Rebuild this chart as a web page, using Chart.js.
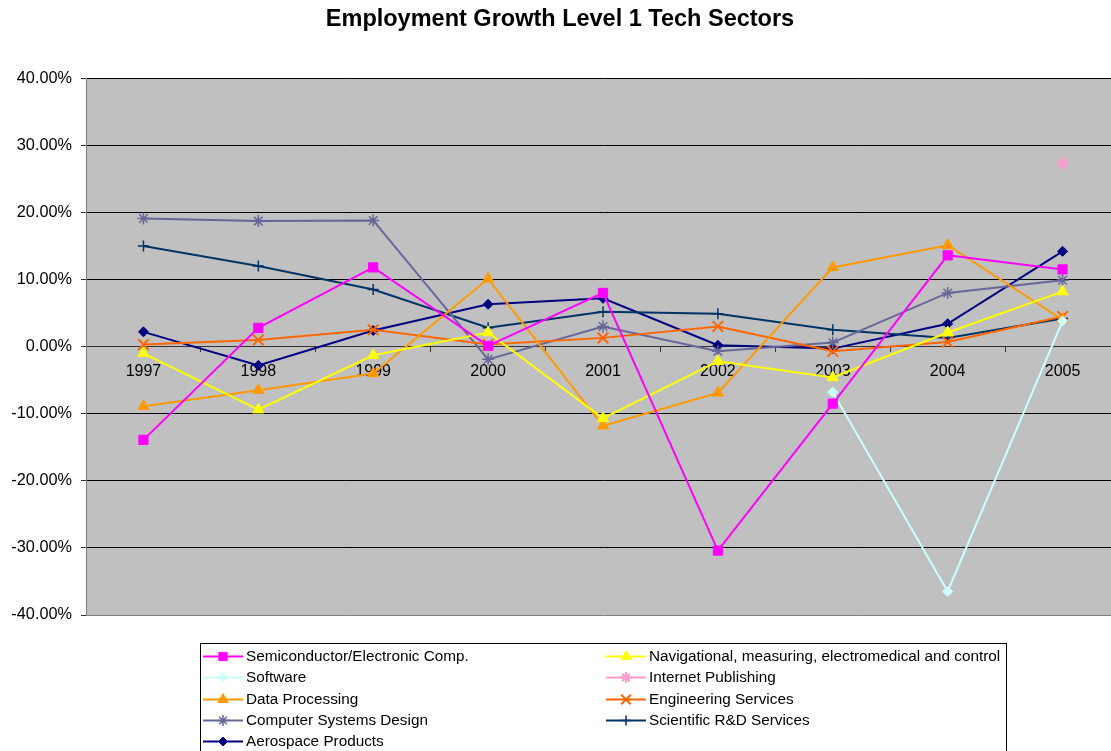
<!DOCTYPE html>
<html>
<head>
<meta charset="utf-8">
<title>Employment Growth Level 1 Tech Sectors</title>
<script src="https://cdn.jsdelivr.net/npm/chart.js@4/dist/chart.umd.min.js"></script>
<style>
  html, body { margin: 0; padding: 0; background: #fff; overflow: hidden; }
  #wrap { width: 1130px; height: 751px; }
</style>
</head>
<body>
<div id="wrap"><canvas id="myChart" width="1130" height="751"></canvas></div>
<script>
// yearly employment growth, in percent
var years = ['1997', '1998', '1999', '2000', '2001', '2002', '2003', '2004', '2005'];
var yTicks = [-40, -30, -20, -10, 0, 10, 20, 30, 40];

var semiconductor      = [-13.9, 2.8, 11.8, 0.1, 8.0, -30.4, -8.5, 13.6, 11.5];
var navigational       = [-1.0, -9.4, -1.3, 2.1, -10.7, -2.2, -4.6, 2.1, 8.2];
var software           = [null, null, null, null, null, null, -6.8, -36.5, 3.8];
var internetPublishing = [null, null, null, null, null, null, null, null, 27.3];
var dataProcessing     = [-8.9, -6.5, -4.0, 10.1, -11.8, -6.9, 11.8, 15.1, 4.0];
var engineering        = [0.3, 1.0, 2.5, 0.3, 1.3, 3.0, -0.7, 0.7, 4.5];
var computerSystems    = [19.1, 18.7, 18.8, -1.9, 3.0, -0.7, 0.6, 8.0, 9.9];
var scientificRD       = [15.0, 12.0, 8.5, 2.8, 5.2, 4.9, 2.5, 1.3, 4.2];
var aerospace          = [2.2, -2.8, 2.4, 6.3, 7.2, 0.2, -0.3, 3.4, 14.2];

function series(label, data, color, style, radius, bw) {
  var filled = (style === 'rect' || style === 'triangle' || style === 'rectRot');
  return {
    label: label,
    data: data,
    borderColor: color,
    backgroundColor: color,
    borderWidth: 2,
    pointStyle: style,
    pointRadius: radius,
    pointHoverRadius: radius,
    pointBackgroundColor: color,
    pointBorderColor: color,
    pointBorderWidth: filled ? 1 : bw,
    tension: 0,
    spanGaps: false
  };
}

// order follows the legend rows: left column, right column
var datasets = [
  series('Semiconductor/Electronic Comp.', semiconductor, '#FF00FF', 'rect', 6.5),
  series('Navigational, measuring, electromedical and control', navigational, '#FFFF00', 'triangle', 6.5),
  series('Software', software, '#CCFFFF', 'rectRot', 5),
  series('Internet Publishing', internetPublishing, '#FF99CC', 'star', 6, 2),
  series('Data Processing', dataProcessing, '#FF9900', 'triangle', 6.5),
  series('Engineering Services', engineering, '#FF6600', 'crossRot', 7.5, 2),
  series('Computer Systems Design', computerSystems, '#666699', 'star', 6, 1.5),
  series('Scientific R&D Services', scientificRD, '#003366', 'cross', 5.5, 1.5),
  series('Aerospace Products', aerospace, '#000080', 'rectRot', 5)
];

// grey plot area behind the grid
var plotBackground = {
  id: 'plotBackground',
  beforeDraw: function(chart) {
    var a = chart.chartArea, ctx = chart.ctx;
    ctx.save();
    ctx.fillStyle = '#C0C0C0';
    ctx.fillRect(a.left, a.top, a.right - a.left, a.bottom - a.top);
    ctx.restore();
  }
};

// boxed two-column legend under the plot
var boxLegend = {
  id: 'boxLegend',
  afterDraw: function(chart) {
    var ctx = chart.ctx;
    var boxX = 200, boxY = 643, boxW = 806, boxH = 130;
    var colX = [203, 606];
    var rowY = 656, rowH = 21.3;
    ctx.save();
    ctx.strokeStyle = '#000';
    ctx.lineWidth = 1;
    ctx.strokeRect(boxX + 0.5, boxY + 0.5, boxW, boxH);
    ctx.font = '15.3px "Liberation Sans", Arial, sans-serif';
    ctx.textBaseline = 'middle';
    ctx.textAlign = 'left';
    chart.data.datasets.forEach(function(ds, i) {
      var x = colX[i % 2];
      var y = Math.round(rowY + Math.floor(i / 2) * rowH) + 0.5;
      ctx.strokeStyle = ds.borderColor;
      ctx.lineWidth = 2;
      ctx.beginPath();
      ctx.moveTo(x, y);
      ctx.lineTo(x + 40, y);
      ctx.stroke();
      ctx.fillStyle = ds.pointBackgroundColor;
      ctx.strokeStyle = ds.pointBorderColor;
      ctx.lineWidth = ds.pointBorderWidth;
      Chart.helpers.drawPoint(ctx, {
        pointStyle: ds.pointStyle,
        radius: ds.pointRadius * 0.9,
        rotation: 0,
        borderWidth: ds.pointBorderWidth
      }, x + 20, y);
      ctx.fillStyle = '#000';
      ctx.fillText(ds.label, x + 43, y);
    });
    ctx.restore();
  }
};

Chart.defaults.font.family = '"Liberation Sans", Arial, sans-serif';
Chart.defaults.color = '#000';

var ctx = document.getElementById('myChart').getContext('2d');
var myChart = new Chart(ctx, {
  type: 'line',
  data: { labels: years, datasets: datasets },
  options: {
    responsive: false,
    animation: false,
    events: [],
    layout: { padding: { left: 0, right: 10, top: 0, bottom: 136 } },
    plugins: {
      legend: { display: false },
      tooltip: { enabled: false },
      title: {
        display: true,
        text: 'Employment Growth Level 1 Tech Sectors',
        font: { size: 23.5, weight: 'bold' },
        lineHeight: 1.2,
        color: '#000',
        padding: { top: 5, bottom: 45 }
      }
    },
    scales: {
      x: {
        type: 'category',
        position: { y: 0 },
        offset: true,
        grid: {
          display: true,
          offset: true,
          drawOnChartArea: false,
          drawTicks: true,
          tickLength: 5,
          tickColor: '#333'
        },
        border: { display: true, color: '#333', width: 1 },
        ticks: { font: { size: 16 }, padding: 10, maxRotation: 0, autoSkip: false }
      },
      y: {
        min: -40,
        max: 40,
        afterBuildTicks: function(scale) {
          scale.ticks = yTicks.map(function(v) { return { value: v }; });
        },
        afterFit: function(scale) { scale.width = 86; },
        grid: {
          color: function(c) { return c.tick && c.tick.value === -40 ? '#808080' : '#000'; },
          lineWidth: 1,
          drawTicks: true,
          tickLength: 5,
          tickColor: '#333'
        },
        border: { display: true, color: '#808080', width: 1 },
        ticks: {
          font: { size: 16.3 },
          padding: 9,
          callback: function(v) { return v.toFixed(2) + '%'; }
        }
      }
    }
  },
  plugins: [plotBackground, boxLegend]
});
</script>
</body>
</html>
